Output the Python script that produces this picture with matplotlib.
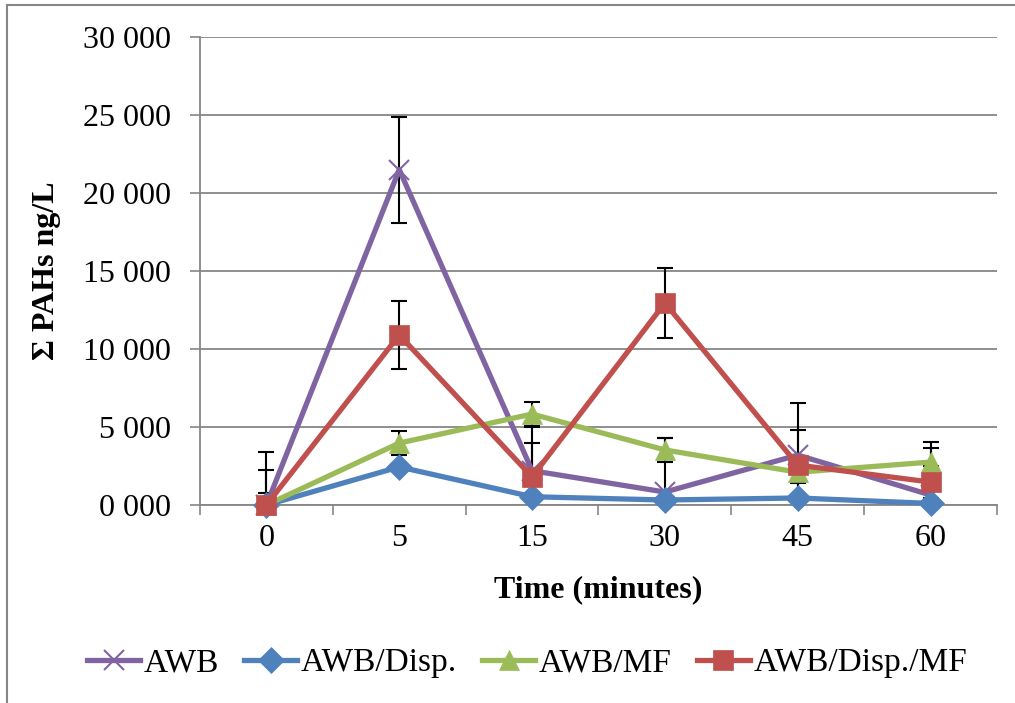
import matplotlib
matplotlib.use("Agg")
import matplotlib.pyplot as plt
from matplotlib.lines import Line2D

categories = ["0", "5", "15", "30", "45", "60"]
series_names = ["AWB", "AWB/Disp.", "AWB/MF", "AWB/Disp./MF"]
awb = [0, 21500, 2200, 830, 3200, 640]
awb_err = [3400, 3400, 2800, 3450, 3340, 3400]
awb_disp = [0, 2440, 530, 320, 450, 100]
awb_disp_err = [0, 150, 100, 100, 100, 50]
awb_mf = [0, 3970, 5830, 3530, 2100, 2750]
awb_mf_err = [770, 750, 770, 770, 700, 900]
awb_disp_mf = [0, 10900, 1800, 12950, 2560, 1470]
awb_disp_mf_err = [2250, 2200, 2200, 2250, 2240, 1000]
yticks = [0, 5000, 10000, 15000, 20000, 25000, 30000]
ytick_labels = ["0 000", "5 000", "10 000", "15 000", "20 000", "25 000", "30 000"]

colors = ["#8064A2", "#4F81BD", "#9BBB59", "#C0504D"]
markers = ["x", "D", "^", "s"]
msizes = [15, 13, 15, 14]
values = [awb, awb_disp, awb_mf, awb_disp_mf]
errors = [awb_err, awb_disp_err, awb_mf_err, awb_disp_mf_err]

plt.rcParams['font.family'] = ['Liberation Serif', 'DejaVu Serif']

fig = plt.figure(figsize=(10.15, 7.03), dpi=100)
W, H = 1015, 703
ax = fig.add_axes([200 / W, 1 - 505 / H, (997 - 200) / W, (505 - 37) / H])

x = list(range(len(categories)))
for i, (vals, errs) in enumerate(zip(values, errors)):
    ax.errorbar(x, vals, yerr=errs, fmt='none', ecolor='black', elinewidth=1.5,
                capsize=6, capthick=1.5, zorder=2.5, clip_on=True)
for i, vals in enumerate(values):
    mew = 1.5 if markers[i] == 'x' else 0.5
    ax.plot(x, vals, color=colors[i], lw=3.8, marker=markers[i], markersize=msizes[i],
            markeredgewidth=mew, markeredgecolor=colors[i], markerfacecolor=colors[i],
            label=series_names[i], zorder=3 + i, clip_on=False)

ax.set_xlim(-0.5, 5.5)
ax.set_ylim(0, 30000)
ax.set_yticks(yticks)
ax.set_yticklabels(ytick_labels)
ax.set_xticks(x)
ax.set_xticklabels(categories)
ax.set_xticks([k - 0.5 for k in range(len(categories) + 1)], minor=True)
ax.tick_params(axis='x', which='major', length=0, pad=14, labelsize=23)
ax.tick_params(axis='x', which='minor', length=7, width=1.2, color='#868686')
ax.tick_params(axis='y', which='major', length=7, width=1.2, color='#868686', pad=14, labelsize=23)
ax.grid(axis='y', color='#868686', lw=1.3)
ax.set_axisbelow(True)
for s in ['top', 'right']:
    ax.spines[s].set_visible(False)
for s in ['left', 'bottom']:
    ax.spines[s].set_color('#868686')
    ax.spines[s].set_linewidth(1.3)

ax.set_xlabel("Time (minutes)", fontsize=23, fontweight='bold', labelpad=16)
ax.set_ylabel("Σ PAHs ng/L", fontsize=23, fontweight='bold', labelpad=16)

handles, labels = ax.get_legend_handles_labels()
leg = fig.legend(handles, labels, loc='center', bbox_to_anchor=(527 / W, 1 - 663 / H), ncol=4,
                 frameon=False, fontsize=24, handlelength=1.6, handletextpad=0.1,
                 columnspacing=0.75)

fig.add_artist(Line2D([7 / W, 7 / W], [0, 1 - 5 / H], color='#868686', lw=1.5))
fig.add_artist(Line2D([7 / W, 1], [1 - 5 / H, 1 - 5 / H], color='#868686', lw=1.5))

fig.savefig("out.png", dpi=100)
